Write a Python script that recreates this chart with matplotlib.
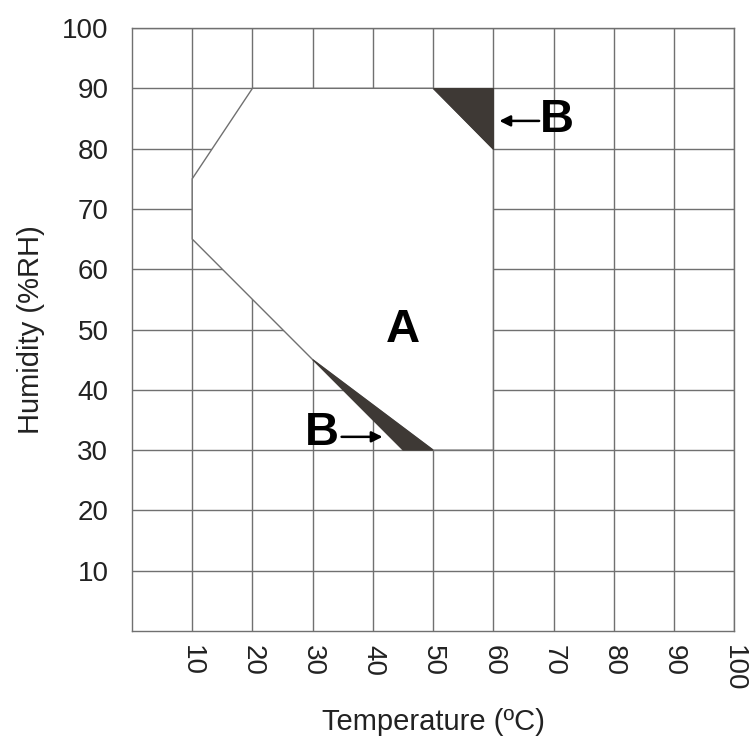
import numpy as np
import matplotlib.pyplot as plt
from matplotlib.patches import Polygon

plt.rcParams['font.family'] = ['Liberation Sans', 'DejaVu Sans']

# Datos de la grafica
ticks = np.arange(10, 101, 10)
# zona A (temperatura, humedad)
zona_A_x = [10, 20, 50, 60, 60, 50, 30, 10]
zona_A_y = [75, 90, 90, 80, 30, 30, 45, 65]
# zonas B (triangulos oscuros)
zona_B1_x = [50, 60, 60]
zona_B1_y = [90, 90, 80]
zona_B2_x = [30, 50, 45]
zona_B2_y = [45, 30, 30]
# etiquetas
etq_A = (45, 50)
etq_B1, flecha_B1 = (70.6, 84.8), ((67.6, 84.6), (61.0, 84.6))
etq_B2, flecha_B2 = (31.6, 32.9), ((34.8, 32.2), (41.6, 32.2))

gris = '#707070'
oscuro = '#3e3935'

fig = plt.figure(figsize=(7.5, 7.38), dpi=100)
ax = fig.add_axes([0.176, 0.145, 0.803, 0.817])
ax.set_xlim(0, 100)
ax.set_ylim(0, 100)
ax.set_xticks(ticks)
ax.set_yticks(ticks)
ax.grid(True, color=gris, linewidth=1.0)
ax.tick_params(length=0, labelsize=20, colors='#222222')
ax.tick_params(axis='x', pad=10, labelrotation=-90)
ax.tick_params(axis='y', pad=17)
for s in ax.spines.values():
    s.set_color(gris)
    s.set_linewidth(1.0)

# zona A en blanco, tapa la reticula
ax.add_patch(Polygon(np.column_stack([zona_A_x, zona_A_y]), closed=True,
                     facecolor='white', edgecolor=gris, linewidth=1.0, zorder=2))
ax.add_patch(Polygon(np.column_stack([zona_B1_x, zona_B1_y]), closed=True,
                     facecolor=oscuro, edgecolor=oscuro, linewidth=0.8, zorder=3))
ax.add_patch(Polygon(np.column_stack([zona_B2_x, zona_B2_y]), closed=True,
                     facecolor=oscuro, edgecolor=oscuro, linewidth=0.8, zorder=3))

ax.text(*etq_A, 'A', fontsize=34, fontweight='bold', ha='center', va='center',
        zorder=4)
ax.text(*etq_B1, 'B', fontsize=34, fontweight='bold', ha='center', va='center',
        zorder=4)
ax.text(*etq_B2, 'B', fontsize=34, fontweight='bold', ha='center', va='center',
        zorder=4)
for ini, fin in [flecha_B1, flecha_B2]:
    ax.annotate('', xy=fin, xytext=ini, zorder=4,
                arrowprops=dict(arrowstyle='-|>', color='black', lw=1.8,
                                mutation_scale=16, shrinkA=0, shrinkB=0))

ax.set_xlabel('Temperature (ºC)', fontsize=21, labelpad=12, color='#222222')
ax.set_ylabel('Humidity (%RH)', fontsize=21, labelpad=12, color='#222222')

fig.savefig('out.png', dpi=100)
